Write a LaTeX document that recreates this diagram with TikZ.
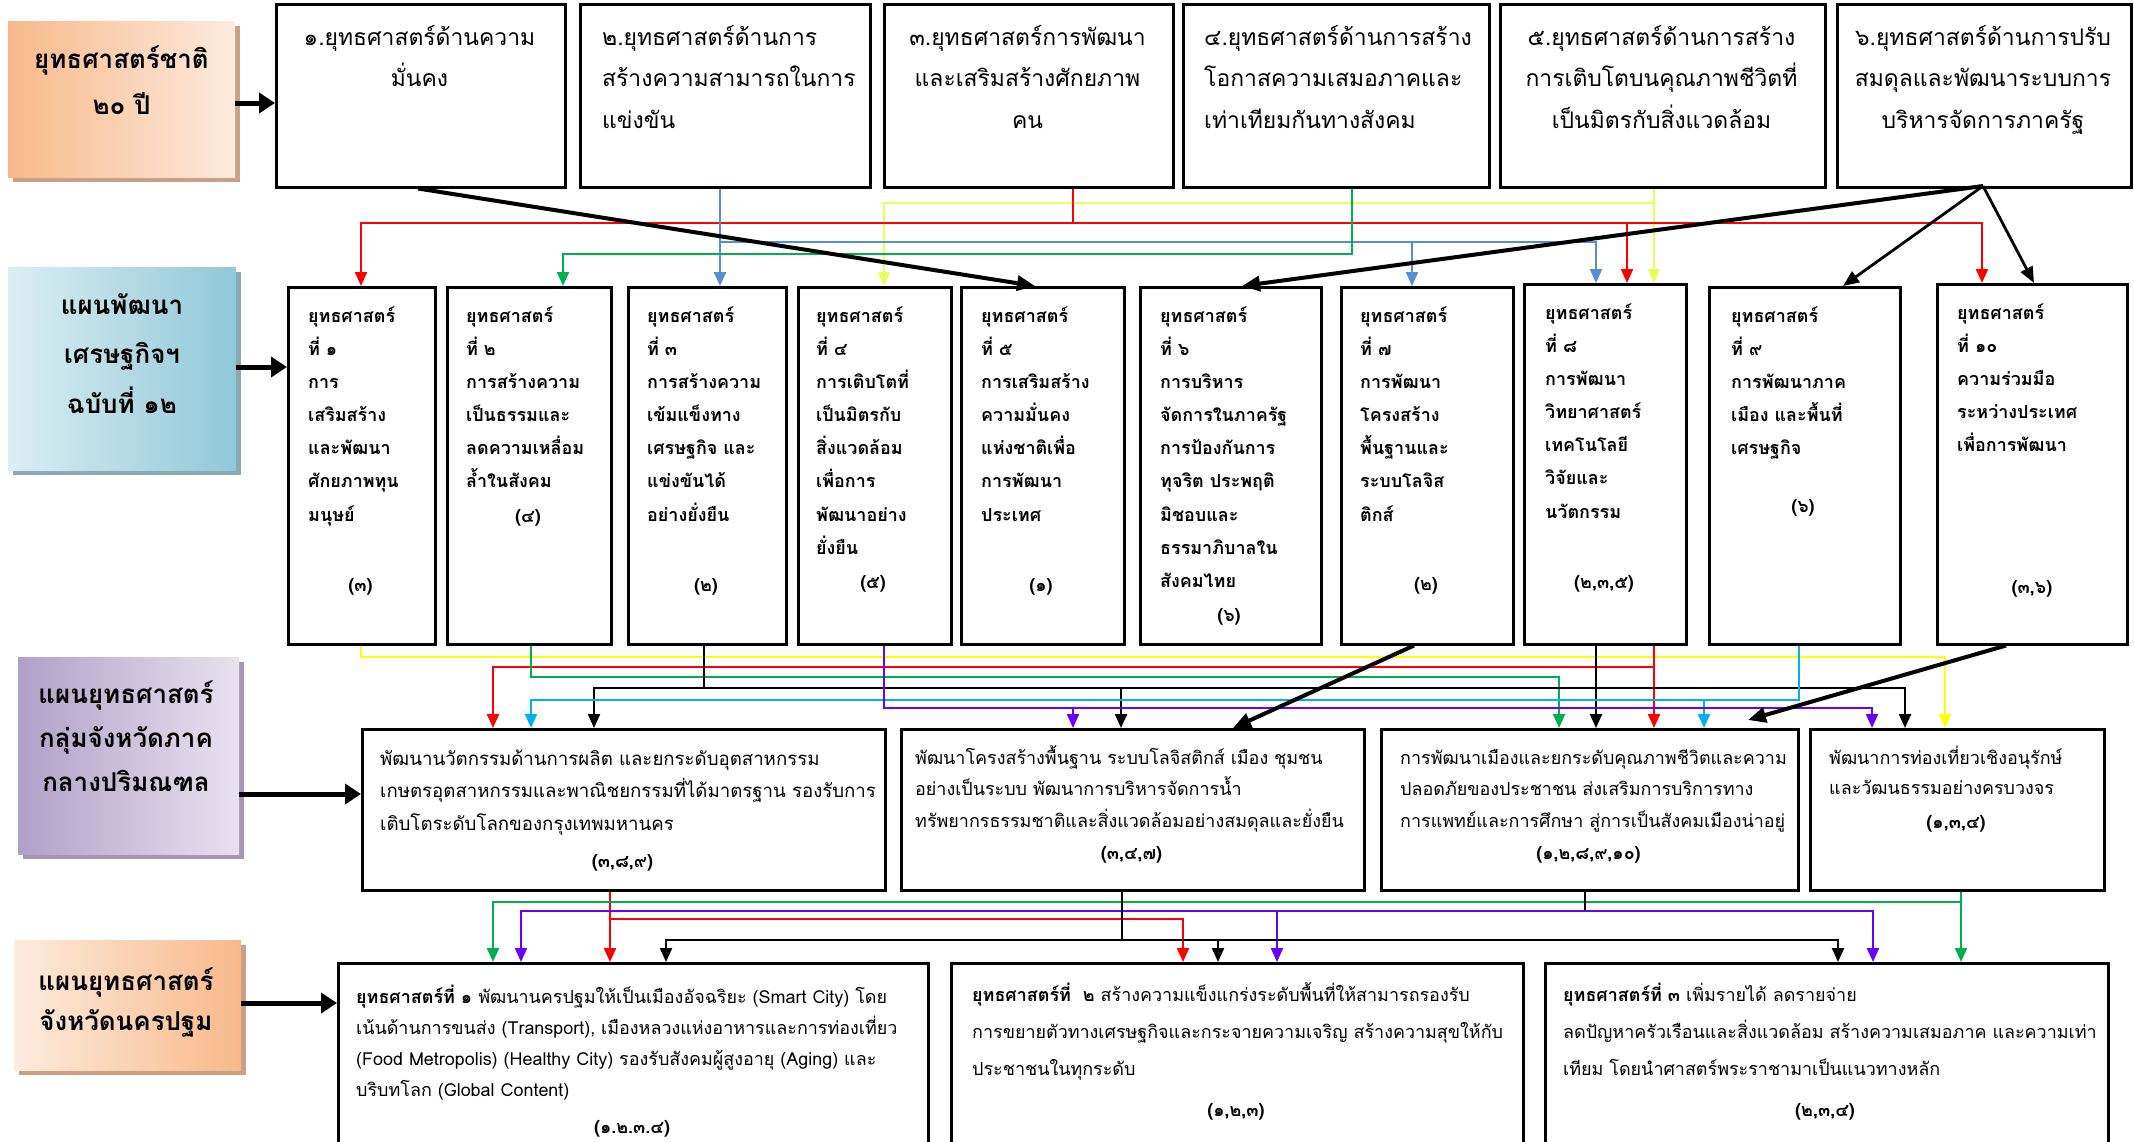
\documentclass[tikz,border=0pt]{standalone}
\usepackage{fontspec}
\setmainfont{Loma}[Script=Thai]
\usetikzlibrary{arrows.meta}
\definecolor{cR}{RGB}{255,0,0}
\definecolor{cB}{RGB}{85,142,213}
\definecolor{cG}{RGB}{0,176,80}
\definecolor{cY}{RGB}{232,255,90}
\definecolor{cYY}{RGB}{255,255,0}
\definecolor{cC}{RGB}{0,176,240}
\definecolor{cP}{RGB}{102,0,255}
\definecolor{oD}{RGB}{248,185,138}
\definecolor{oL}{RGB}{253,235,222}
\definecolor{oS}{RGB}{201,160,132}
\definecolor{bD}{RGB}{143,200,216}
\definecolor{bL}{RGB}{220,238,243}
\definecolor{bS}{RGB}{139,169,178}
\definecolor{pD}{RGB}{176,160,200}
\definecolor{pL}{RGB}{232,226,239}
\definecolor{pS}{RGB}{165,150,181}
\newcommand\bx[5]{\node[box,minimum width=#4bp,minimum height=#5bp] (#1) at (#2,#3) {};}
\begin{document}
\begin{tikzpicture}[x=1bp,y=-1bp,
  box/.style={draw,line width=2.5bp,inner sep=0,anchor=north west},
  lab/.style={inner sep=0,anchor=north west},
  labt/.style={anchor=base,align=center,text width=230bp,inner sep=0,font=\fontsize{26}{47}\selectfont\bfseries},
  tc/.style={anchor=base,align=center,text width=320bp,inner sep=0,font=\fontsize{23}{42}\selectfont},
  tl/.style={anchor=base west,align=left,text width=340bp,inner sep=0,font=\fontsize{23}{42}\selectfont},
  mt/.style={anchor=base west,align=left,text width=200bp,inner sep=0,font=\fontsize{18}{33.3}\selectfont\bfseries},
  mn/.style={anchor=base,inner sep=0,font=\fontsize{18}{33}\selectfont\bfseries},
  rt/.style={anchor=base west,align=left,text width=620bp,inner sep=0,font=\fontsize{18}{33}\selectfont},
  ln/.style={line width=2.2bp},
  arr/.style={-{Triangle[length=14bp,width=12bp]}},
  kthick/.style={line width=4bp,-{Triangle[length=18bp,width=15bp]}},
  kmed/.style={line width=2.8bp,-{Triangle[length=16bp,width=13bp]}},
  labarr/.style={line width=5bp,-{Triangle[length=16bp,width=20bp]}}]
\useasboundingbox (0,0) rectangle (2134,1141);
\fill[white] (0,0) rectangle (2134,1141);
% ---------- left labels ----------
\fill[oS] (13,26) rectangle (240,182);
\node[lab,minimum width=227bp,minimum height=156bp,left color=oD,right color=oL] (L1) at (8,21) {};
\node[labt] (L1t) at (121.5,68) {ยุทธศาสตร์ชาติ\\๒๐ ปี};
\fill[bS] (13,272) rectangle (241,475);
\node[lab,minimum width=228bp,minimum height=203bp,left color=bL,right color=bD] (L2) at (8,267) {};
\node[labt,font=\fontsize{26}{50}\selectfont\bfseries] (L2t) at (122,314) {แผนพัฒนา\\เศรษฐกิจฯ\\ฉบับที่ ๑๒};
\fill[pS] (23,662) rectangle (244,859);
\node[lab,minimum width=221bp,minimum height=197bp,left color=pD,right color=pL] (L3) at (18,657) {};
\node[labt,font=\fontsize{26}{44.5}\selectfont\bfseries] (L3t) at (126,703) {แผนยุทธศาสตร์\\กลุ่มจังหวัดภาค\\กลางปริมณฑล};
\fill[oS] (19,945) rectangle (246,1075);
\node[lab,minimum width=227bp,minimum height=130bp,left color=oL,right color=oD] (L4) at (14,940) {};
\node[labt,font=\fontsize{26}{41}\selectfont\bfseries] (L4t) at (126,990) {แผนยุทธศาสตร์\\จังหวัดนครปฐม};
% ---------- row 1 ----------
\bx{T1}{275}{3}{289}{183}
\bx{T2}{579}{3}{290}{183}
\bx{T3}{883}{3}{289}{183}
\bx{T4}{1182}{3}{306}{183}
\bx{T5}{1499}{3}{325}{183}
\bx{T6}{1836}{3}{294}{183}
\node[tc] (T1t) at (419.5,45) {๑.ยุทธศาสตร์ด้านความ\\มั่นคง};
\node[tl] (T2t) at (602,45) {๒.ยุทธศาสตร์ด้านการ\\สร้างความสามารถในการ\\แข่งขัน};
\node[tc] (T3t) at (1027.5,45) {๓.ยุทธศาสตร์การพัฒนา\\และเสริมสร้างศักยภาพ\\คน};
\node[tl] (T4t) at (1204,45) {๔.ยุทธศาสตร์ด้านการสร้าง\\โอกาสความเสมอภาคและ\\เท่าเทียมกันทางสังคม};
\node[tc] (T5t) at (1661.5,45) {๕.ยุทธศาสตร์ด้านการสร้าง\\การเติบโตบนคุณภาพชีวิตที่\\เป็นมิตรกับสิ่งแวดล้อม};
\node[tc] (T6t) at (1983,45) {๖.ยุทธศาสตร์ด้านการปรับ\\สมดุลและพัฒนาระบบการ\\บริหารจัดการภาครัฐ};
% ---------- row 2 ----------
\bx{M1}{287}{286}{147}{357}
\bx{M2}{446}{286}{164}{357}
\bx{M3}{627}{286}{158}{357}
\bx{M4}{797}{286}{153}{357}
\bx{M5}{960}{286}{163}{357}
\bx{M6}{1139}{286}{181}{357}
\bx{M7}{1340}{286}{172}{357}
\bx{M8}{1523}{283}{162}{360}
\bx{M9}{1708}{286}{191}{357}
\bx{M10}{1936}{283}{190}{360}
\node[mt] (M1t) at (308,322) {ยุทธศาสตร์\\ที่ ๑\\การ\\เสริมสร้าง\\และพัฒนา\\ศักยภาพทุน\\มนุษย์};
\node[mt] (M2t) at (466,322) {ยุทธศาสตร์\\ที่ ๒\\การสร้างความ\\เป็นธรรมและ\\ลดความเหลื่อม\\ล้ำในสังคม};
\node[mt] (M3t) at (647,322) {ยุทธศาสตร์\\ที่ ๓\\การสร้างความ\\เข้มแข็งทาง\\เศรษฐกิจ และ\\แข่งขันได้\\อย่างยั่งยืน};
\node[mt] (M4t) at (816,322) {ยุทธศาสตร์\\ที่ ๔\\การเติบโตที่\\เป็นมิตรกับ\\สิ่งแวดล้อม\\เพื่อการ\\พัฒนาอย่าง\\ยั่งยืน};
\node[mt] (M5t) at (981,322) {ยุทธศาสตร์\\ที่ ๕\\การเสริมสร้าง\\ความมั่นคง\\แห่งชาติเพื่อ\\การพัฒนา\\ประเทศ};
\node[mt] (M6t) at (1160,322) {ยุทธศาสตร์\\ที่ ๖\\การบริหาร\\จัดการในภาครัฐ\\การป้องกันการ\\ทุจริต ประพฤติ\\มิชอบและ\\ธรรมาภิบาลใน\\สังคมไทย};
\node[mt] (M7t) at (1360,322) {ยุทธศาสตร์\\ที่ ๗\\การพัฒนา\\โครงสร้าง\\พื้นฐานและ\\ระบบโลจิส\\ติกส์};
\node[mt] (M8t) at (1545,319) {ยุทธศาสตร์\\ที่ ๘\\การพัฒนา\\วิทยาศาสตร์\\เทคโนโลยี\\วิจัยและ\\นวัตกรรม};
\node[mt] (M9t) at (1731,322) {ยุทธศาสตร์\\ที่ ๙\\การพัฒนาภาค\\เมือง และพื้นที่\\เศรษฐกิจ};
\node[mt] (M10t) at (1957,319) {ยุทธศาสตร์\\ที่ ๑๐\\ความร่วมมือ\\ระหว่างประเทศ\\เพื่อการพัฒนา};
\node[mn] (M1n) at (360.5,591) {(๓)};
\node[mn] (M2n) at (528,522) {(๔)};
\node[mn] (M3n) at (706,591) {(๒)};
\node[mn] (M4n) at (873,588) {(๕)};
\node[mn] (M5n) at (1041,591) {(๑)};
\node[mn] (M6n) at (1229,621) {(๖)};
\node[mn] (M7n) at (1426,590) {(๒)};
\node[mn] (M8n) at (1604,588) {(๒,๓,๕)};
\node[mn] (M9n) at (1803,512) {(๖)};
\node[mn] (M10n) at (2032,593) {(๓,๖)};
% ---------- row 3 ----------
\bx{R1}{361}{728}{523}{161}
\bx{R2}{900}{728}{463}{161}
\bx{R3}{1380}{728}{417}{161}
\bx{R4}{1809}{728}{294}{161}
\node[rt,font=\fontsize{18.7}{33}\selectfont] (R1t) at (380,765) {พัฒนานวัตกรรมด้านการผลิต และยกระดับอุตสาหกรรม\\เกษตรอุตสาหกรรมและพาณิชยกรรมที่ได้มาตรฐาน รองรับการ\\เติบโตระดับโลกของกรุงเทพมหานคร};
\node[rt,font=\fontsize{18}{32}\selectfont] (R2t) at (915,764) {พัฒนาโครงสร้างพื้นฐาน ระบบโลจิสติกส์ เมือง ชุมชน\\อย่างเป็นระบบ พัฒนาการบริหารจัดการน้ำ\\ทรัพยากรธรรมชาติและสิ่งแวดล้อมอย่างสมดุลและยั่งยืน};
\node[rt,font=\fontsize{18}{32}\selectfont] (R3t) at (1400,764) {การพัฒนาเมืองและยกระดับคุณภาพชีวิตและความ\\ปลอดภัยของประชาชน ส่งเสริมการบริการทาง\\การแพทย์และการศึกษา สู่การเป็นสังคมเมืองน่าอยู่};
\node[rt,font=\fontsize{18}{31}\selectfont] (R4t) at (1829,764) {พัฒนาการท่องเที่ยวเชิงอนุรักษ์\\และวัฒนธรรมอย่างครบวงจร};
\node[mn] (R1n) at (622.5,867) {(๓,๘,๙)};
\node[mn] (R2n) at (1131.5,859) {(๓,๔,๗)};
\node[mn] (R3n) at (1588.5,859) {(๑,๒,๘,๙,๑๐)};
\node[mn] (R4n) at (1956,828) {(๑,๓,๔)};
% ---------- row 4 ----------
\bx{B1}{337}{962}{590}{220}
\bx{B2}{950}{962}{572}{220}
\bx{B3}{1544}{962}{563}{220}
\node[rt,font=\fontsize{18}{31.3}\selectfont] (B1t) at (356,1003) {{\bfseries ยุทธศาสตร์ที่ ๑} พัฒนานครปฐมให้เป็นเมืองอัจฉริยะ (Smart City) โดย\\เน้นด้านการขนส่ง (Transport), เมืองหลวงแห่งอาหารและการท่องเที่ยว\\(Food Metropolis) (Healthy City) รองรับสังคมผู้สูงอายุ (Aging) และ\\บริบทโลก (Global Content)};
\node[rt,font=\fontsize{18}{37.5}\selectfont] (B2t) at (972,1001) {{\bfseries ยุทธศาสตร์ที่ \ ๒} สร้างความแข็งแกร่งระดับพื้นที่ให้สามารถรองรับ\\การขยายตัวทางเศรษฐกิจและกระจายความเจริญ สร้างความสุขให้กับ\\ประชาชนในทุกระดับ};
\node[rt,font=\fontsize{18}{37.5}\selectfont] (B3t) at (1563,1001) {{\bfseries ยุทธศาสตร์ที่ ๓} เพิ่มรายได้ ลดรายจ่าย\\ลดปัญหาครัวเรือนและสิ่งแวดล้อม สร้างความเสมอภาค และความเท่า\\เทียม โดยนำศาสตร์พระราชามาเป็นแนวทางหลัก};
\node[mn] (B1n) at (632,1133) {(๑.๒.๓.๔)};
\node[mn] (B2n) at (1236,1116) {(๑,๒,๓)};
\node[mn] (B3n) at (1825,1116) {(๒,๓,๔)};
% ---------- label arrows ----------
\draw[labarr] (L1.east |- 0,103) -- (T1.west |- 0,103);
\draw[labarr] (L2.east |- 0,367) -- (M1.west |- 0,367);
\draw[labarr] (L3.east |- 0,794) -- (R1.west |- 0,794);
\draw[labarr] (L4.east |- 0,1003) -- (B1.west |- 0,1003);
% ---------- band 1 ----------
\coordinate (jR1) at (1073,223);
\coordinate (jR2) at (1627,223);
\coordinate (jB1) at (720,242);
\coordinate (jB2) at (1412,242);
\coordinate (jY1) at (1654,203);
\coordinate (k6) at (1983,186);
\draw[ln,cY,arr] (T5.south -| jY1) -- (M8.north -| jY1);
\draw[ln,cY,arr] (jY1) -| (M4.north -| 884,0);
\draw[ln,cR] (T3.south -| jR1) -- (jR1);
\draw[ln,cR,arr] (jR1) -| (M1.north -| 361,0);
\draw[ln,cR,arr] (jR1) -| (M10.north -| 1982,0);
\draw[ln,cR,arr] (jR2) -- (M8.north -| jR2);
\draw[ln,cB,arr] (T2.south -| jB1) -- (M3.north -| jB1);
\draw[ln,cB,arr] (jB1) -| (M8.north -| 1596,0);
\draw[ln,cB,arr] (jB2) -- (M7.north -| jB2);
\draw[ln,cG,arr] (T4.south -| 1352,0) |- (563,254) -- (M2.north -| 563,0);
\draw[kthick] (T1.south -| 418,0) -- (M5.north -| 1035,0);
\draw[kthick] (k6) -- (M6.north -| 1242,0);
\draw[kmed] (k6) -- (M9.north -| 1843,0);
\draw[kmed] (k6) -- (M10.north -| 2034,0);
% ---------- band 2 ----------
\coordinate (jR3) at (1654,667);
\coordinate (jK1) at (704,688);
\coordinate (jK2) at (1121,688);
\coordinate (jC1) at (1704,700);
\coordinate (jP1) at (1073,708);
\draw[ln,cYY,arr] (M1.south -| 361,0) |- (1945,657) -- (R4.north -| 1945,0);
\draw[ln,cR,arr] (M8.south -| jR3) -- (R3.north -| jR3);
\draw[ln,cR,arr] (jR3) -| (R1.north -| 493,0);
\draw[ln,cG,arr] (M2.south -| 531,0) |- (1559,677) -- (R3.north -| 1559,0);
\draw[ln] (M3.south -| jK1) -- (jK1);
\draw[ln,arr] (jK1) -| (R1.north -| 594,0);
\draw[ln,arr] (jK1) -| (R4.north -| 1905,0);
\draw[ln,arr] (jK2) -- (R2.north -| jK2);
\draw[ln,arr] (M8.south -| 1596,0) -- (R3.north -| 1596,0);
\draw[ln,cC,arr] (M9.south -| 1799,0) |- (531,700) -- (R1.north -| 531,0);
\draw[ln,cC,arr] (jC1) -- (R3.north -| jC1);
\draw[ln,cP,arr] (M4.south -| 884,0) |- (1872,708) -- (R4.north -| 1872,0);
\draw[ln,cP,arr] (jP1) -- (R2.north -| jP1);
\draw[kthick] (M7.south -| 1414,0) -- (R2.north -| 1233,0);
\draw[kthick] (M10.south -| 2006,0) -- (1748,720);
% ---------- band 3 ----------
\coordinate (jR4) at (610,919);
\coordinate (jG4) at (1961,902);
\coordinate (jP4) at (1585,911);
\coordinate (jP5) at (1277,911);
\coordinate (jK4) at (1122,940);
\coordinate (jK5) at (1218,940);
\draw[ln,cR,arr] (R1.south -| jR4) -- (B1.north -| jR4);
\draw[ln,cR,arr] (jR4) -| (B2.north -| 1183,0);
\draw[ln,cG,arr] (R4.south -| jG4) -- (B3.north -| jG4);
\draw[ln,cG,arr] (jG4) -| (B1.north -| 493,0);
\draw[ln] (R3.south -| jP4) -- (jP4);
\draw[ln,cP,arr] (jP4) -| (B1.north -| 521,0);
\draw[ln,cP,arr] (jP4) -| (B3.north -| 1873,0);
\draw[ln,cP,arr] (jP5) -- (B2.north -| jP5);
\draw[ln] (R2.south -| jK4) -- (jK4);
\draw[ln,arr] (jK4) -| (B1.north -| 666,0);
\draw[ln,arr] (jK4) -| (B3.north -| 1838,0);
\draw[ln,arr] (jK5) -- (B2.north -| jK5);
\end{tikzpicture}
\end{document}
